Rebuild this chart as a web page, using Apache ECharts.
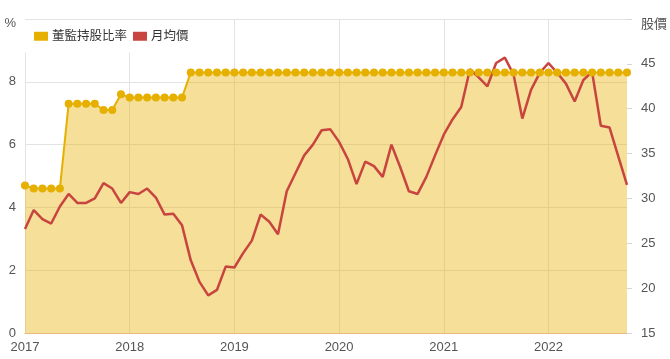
<!DOCTYPE html>
<html>
<head>
<meta charset="utf-8">
<script src="https://cdn.jsdelivr.net/npm/echarts@6/dist/echarts.min.js"></script>
<style>
html,body{margin:0;padding:0;background:#fff;}
#chart{width:670px;height:359px;}
</style>
</head>
<body>
<div id="chart"></div>
<script>
// Categories: monthly, Jan 2017 – Oct 2022
const months = [];
for (let y = 2017; y <= 2022; y++) {
  for (let m = 1; m <= 12; m++) {
    if (y === 2022 && m > 10) break;
    months.push(y + '-' + (m < 10 ? '0' + m : m));
  }
}

// 董監持股比率 (%)
const holdingRatio = [
  4.7, 4.6, 4.6, 4.6, 4.6, 7.3, 7.3, 7.3, 7.3, 7.1, 7.1, 7.6,
  7.5, 7.5, 7.5, 7.5, 7.5, 7.5, 7.5, 8.3, 8.3, 8.3, 8.3, 8.3,
  8.3, 8.3, 8.3, 8.3, 8.3, 8.3, 8.3, 8.3, 8.3, 8.3, 8.3, 8.3,
  8.3, 8.3, 8.3, 8.3, 8.3, 8.3, 8.3, 8.3, 8.3, 8.3, 8.3, 8.3,
  8.3, 8.3, 8.3, 8.3, 8.3, 8.3, 8.3, 8.3, 8.3, 8.3, 8.3, 8.3,
  8.3, 8.3, 8.3, 8.3, 8.3, 8.3, 8.3, 8.3, 8.3, 8.3
];

// 月均價 (股價)
const monthlyPrice = [
  26.6, 28.7, 27.7, 27.2, 29.1, 30.5, 29.5, 29.5, 30.0, 31.7, 31.1, 29.5,
  30.7, 30.5, 31.1, 30.1, 28.2, 28.3, 27.0, 23.1, 20.7, 19.2, 19.8, 22.4,
  22.3, 23.9, 25.3, 28.2, 27.4, 26.0, 30.8, 32.8, 34.8, 36.0, 37.6, 37.7,
  36.3, 34.4, 31.6, 34.1, 33.6, 32.4, 36.0, 33.5, 30.8, 30.5, 32.4, 34.8,
  37.1, 38.8, 40.2, 44.4, 43.5, 42.5, 45.1, 45.7, 43.8, 38.9, 42.1, 44.0,
  45.1, 44.0, 42.8, 40.8, 43.2, 44.1, 38.1, 37.9, 34.7, 31.5
];

const leftTicks = { min: 0, max: 10, interval: 2, topLabel: '%' };
const rightTicks = { min: 15, max: 50, interval: 5, topLabel: '股價' };

const FONT = "'Liberation Sans', Arial, 'Noto Sans CJK TC', sans-serif";
const GOLD = '#E6B000';
const RED = '#C8453F';

const chart = echarts.init(document.getElementById('chart'), null, { renderer: 'canvas' });
chart.setOption({
  animation: false,
  backgroundColor: '#fff',
  textStyle: { fontFamily: FONT },
  grid: { left: 25, right: 38, top: 19, bottom: 26, containLabel: false },
  legend: {
    left: 24, top: 20,
    padding: [10, 10],
    backgroundColor: '#fff',
    itemWidth: 14, itemHeight: 9, itemGap: 6,
    icon: 'rect',
    textStyle: { fontSize: 12.5, color: '#333', fontFamily: FONT, padding: [0, 0, 0, -1] },
    data: ['董監持股比率', '月均價']
  },
  xAxis: {
    type: 'category',
    data: months,
    boundaryGap: false,
    axisLine: { lineStyle: { color: '#E8B97E', width: 1 } },
    axisTick: { show: false },
    axisLabel: {
      interval: 11,
      color: '#555', fontSize: 13, margin: 8,
      formatter: v => v.slice(0, 4)
    },
    splitLine: { show: true, interval: 11, lineStyle: { color: '#E3E3E3' } }
  },
  yAxis: [
    {
      type: 'value',
      min: leftTicks.min, max: leftTicks.max, interval: leftTicks.interval,
      axisLine: { show: false },
      axisTick: { show: false },
      axisLabel: {
        color: '#555', fontSize: 13, margin: 9,
        formatter: v => v === leftTicks.max ? '{p|' + leftTicks.topLabel + '}' : String(v),
        rich: { p: { fontSize: 13, color: '#555', padding: [9, 0, 0, 0] } }
      },
      splitLine: { lineStyle: { color: '#E3E3E3' } }
    },
    {
      type: 'value',
      min: rightTicks.min, max: rightTicks.max, interval: rightTicks.interval,
      axisLine: { show: false },
      axisTick: { show: true, length: 5, lineStyle: { color: '#D6D6D6' } },
      axisLabel: {
        color: '#555', fontSize: 13, margin: 14,
        formatter: v => v === rightTicks.max ? '{p|' + rightTicks.topLabel + '}' : String(v),
        rich: { p: { fontSize: 13, color: '#555', padding: [11, 0, 0, 0] } }
      },
      splitLine: { show: false }
    }
  ],
  series: [
    {
      name: '董監持股比率',
      type: 'line',
      yAxisIndex: 0,
      data: holdingRatio,
      color: GOLD,
      symbol: 'circle',
      symbolSize: 8,
      showAllSymbol: true,
      lineStyle: { width: 2, color: GOLD },
      itemStyle: { color: GOLD },
      areaStyle: { color: GOLD, opacity: 0.4 }
    },
    {
      name: '月均價',
      type: 'line',
      yAxisIndex: 1,
      data: monthlyPrice,
      color: RED,
      showSymbol: false,
      symbol: 'none',
      lineStyle: { width: 2.5, color: RED }
    }
  ]
});
</script>
</body>
</html>
